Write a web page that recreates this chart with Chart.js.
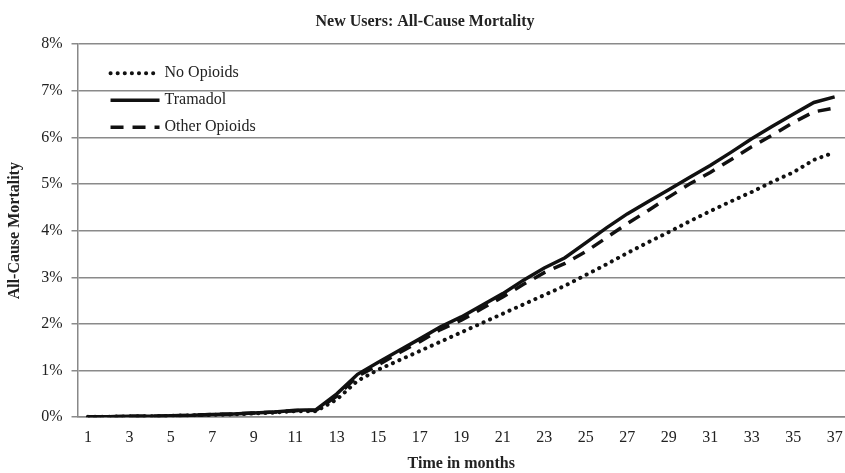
<!DOCTYPE html>
<html>
<head>
<meta charset="utf-8">
<script src="https://cdn.jsdelivr.net/npm/chart.js@4.4.1/dist/chart.umd.min.js"></script>
<style>
  html, body { margin: 0; padding: 0; background: #fff; }
  #wrap { width: 845px; height: 473px; }
</style>
</head>
<body>
<div id="wrap"><canvas id="lineChart"></canvas></div>
<script>
// months 1..37
var months = ["1","2","3","4","5","6","7","8","9","10","11","12","13","14","15","16","17","18","19",
              "20","21","22","23","24","25","26","27","28","29","30","31","32","33","34","35","36","37"];

// all-cause mortality, percent
var noOpioids = [0.01, 0.01, 0.02, 0.02, 0.03, 0.04, 0.05, 0.06, 0.08, 0.10, 0.13, 0.13,
                 0.38, 0.78, 1.02, 1.22, 1.42, 1.62, 1.82, 2.02, 2.22, 2.42, 2.62, 2.82,
                 3.05, 3.28, 3.52, 3.75, 3.97, 4.20, 4.42, 4.63, 4.83, 5.05, 5.25, 5.52, 5.68];
var tramadol = [0.01, 0.01, 0.02, 0.02, 0.03, 0.04, 0.06, 0.07, 0.09, 0.11, 0.15, 0.16,
                0.50, 0.92, 1.18, 1.43, 1.68, 1.94, 2.15, 2.40, 2.65, 2.94, 3.20, 3.42,
                3.74, 4.06, 4.36, 4.62, 4.88, 5.14, 5.40, 5.68, 5.97, 6.24, 6.50, 6.75, 6.87];
var otherOpioids = [0.01, 0.01, 0.02, 0.02, 0.03, 0.04, 0.06, 0.07, 0.09, 0.11, 0.14, 0.15,
                    0.45, 0.88, 1.12, 1.38, 1.62, 1.88, 2.08, 2.33, 2.58, 2.85, 3.10, 3.30,
                    3.55, 3.85, 4.15, 4.43, 4.72, 5.00, 5.25, 5.52, 5.80, 6.05, 6.32, 6.55, 6.63];

var yTicks = [0, 1, 2, 3, 4, 5, 6, 7, 8];

var serif = "'Liberation Serif', 'Times New Roman', serif";

// legend drawn inside the plot, top-left, with the real line styles
var insideLegend = {
    id: 'insideLegend',
    afterDraw: function(chart) {
        var ctx = chart.ctx;
        var x0 = chart.chartArea.left + 33;
        var y0 = chart.chartArea.top + 29;
        chart.data.datasets.forEach(function(ds, i) {
            var y = y0 + i * 27;
            ctx.save();
            ctx.strokeStyle = ds.borderColor;
            ctx.lineWidth = ds.borderWidth;
            ctx.lineCap = ds.borderCapStyle || 'butt';
            ctx.setLineDash(ds.borderDash || []);
            ctx.beginPath();
            ctx.moveTo(x0, y);
            ctx.lineTo(x0 + 49, y);
            ctx.stroke();
            ctx.restore();
            ctx.save();
            ctx.fillStyle = '#222';
            ctx.font = '16px ' + serif;
            ctx.textBaseline = 'middle';
            ctx.fillText(ds.label, x0 + 54, y);
            ctx.restore();
        });
    }
};

var ctx = document.getElementById('lineChart').getContext('2d');
var lineChart = new Chart(ctx, {
    type: 'line',
    data: {
        labels: months,
        datasets: [{
            label: 'No Opioids',
            data: noOpioids,
            borderColor: '#111',
            borderWidth: 4,
            borderDash: [0.1, 7],
            borderCapStyle: 'round',
            pointRadius: 0,
            tension: 0
        }, {
            label: 'Tramadol',
            data: tramadol,
            borderColor: '#111',
            borderWidth: 3.5,
            pointRadius: 0,
            tension: 0
        }, {
            label: 'Other Opioids',
            data: otherOpioids,
            borderColor: '#111',
            borderWidth: 3.5,
            borderDash: [13, 9],
            pointRadius: 0,
            tension: 0
        }]
    },
    options: {
        responsive: true,
        maintainAspectRatio: false,
        animation: false,
        layout: {
            padding: { left: 5, right: 0, top: 4, bottom: 0 }
        },
        scales: {
            x: {
                offset: true,
                afterFit: function(scale) {
                    // plot runs to the right edge like the original
                    scale.paddingRight = 0;
                },
                grid: { display: false, drawTicks: false },
                border: { display: true, color: '#888', width: 1.5 },
                ticks: {
                    autoSkip: false,
                    maxRotation: 0,
                    padding: 11,
                    color: '#222',
                    font: { size: 16, family: serif },
                    callback: function(val, idx) {
                        return idx % 2 === 0 ? months[idx] : '';
                    }
                },
                title: {
                    display: true,
                    text: 'Time in months',
                    color: '#222',
                    padding: { top: -3, bottom: 0 },
                    font: { size: 16, weight: 'bold', family: serif, lineHeight: 1.1 }
                }
            },
            y: {
                min: 0,
                max: 8,
                afterBuildTicks: function(axis) {
                    axis.ticks = yTicks.map(function(v) { return { value: v }; });
                },
                grid: {
                    color: '#8a8a8a',
                    lineWidth: 1.5,
                    tickLength: 6
                },
                border: { display: true, color: '#888', width: 1.5 },
                ticks: {
                    padding: 9,
                    color: '#222',
                    font: { size: 16, family: serif },
                    callback: function(v) { return v + '%'; }
                },
                title: {
                    display: true,
                    text: 'All-Cause Mortality',
                    color: '#222',
                    padding: { top: 0, bottom: 8 },
                    font: { size: 16, weight: 'bold', family: serif }
                }
            }
        },
        plugins: {
            legend: { display: false },
            tooltip: { enabled: false },
            title: {
                display: true,
                text: 'New Users: All-Cause Mortality',
                color: '#222',
                padding: { top: 8, bottom: 13 },
                font: { size: 16, weight: 'bold', family: serif }
            }
        }
    },
    plugins: [insideLegend]
});
</script>
</body>
</html>
